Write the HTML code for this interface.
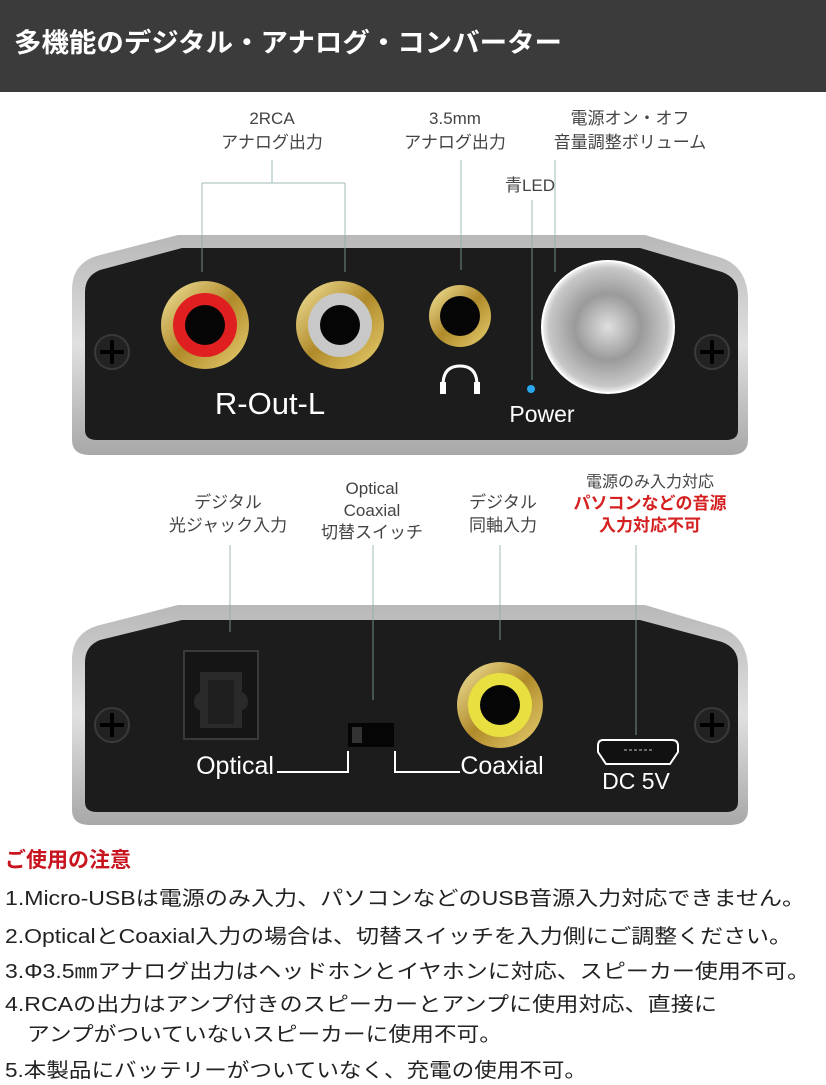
<!DOCTYPE html>
<html><head><meta charset="utf-8"><style>
body{margin:0;width:826px;height:1080px;overflow:hidden;background:#fff}
svg text{font-family:"Liberation Sans","Noto Sans CJK JP",sans-serif}
</style></head><body>
<svg width="826" height="1080" viewBox="0 0 826 1080" xmlns="http://www.w3.org/2000/svg">
<defs>
<radialGradient id="knob" cx="50%" cy="50%" r="50%">
<stop offset="0" stop-color="#e0e0e0"/><stop offset="0.5" stop-color="#9a9a9a"/><stop offset="0.9" stop-color="#c8c8c8"/><stop offset="1" stop-color="#f5f5f5"/>
</radialGradient>
<linearGradient id="gold" x1="0" y1="0" x2="1" y2="1">
<stop offset="0" stop-color="#f4e6a0"/><stop offset="0.5" stop-color="#b08a2a"/><stop offset="1" stop-color="#e8d070"/>
</linearGradient>
<linearGradient id="silver" x1="0" y1="0" x2="0" y2="1">
<stop offset="0" stop-color="#b8b8b8"/><stop offset="0.5" stop-color="#e0e0e0"/><stop offset="1" stop-color="#a8a8a8"/>
</linearGradient>
</defs>
<rect x="0" y="0" width="826" height="92" fill="#3b3b3b"/>
<text x="14" y="52" font-size="26.5" font-weight="bold" fill="#fff" textLength="548" lengthAdjust="spacingAndGlyphs">多機能のデジタル・アナログ・コンバーター</text>

<g fill="#444" font-size="17" text-anchor="middle">
<text x="272" y="124">2RCA</text><text x="272" y="148">アナログ出力</text>
<text x="455" y="124">3.5mm</text><text x="455" y="148">アナログ出力</text>
<text x="630" y="124">電源オン・オフ</text><text x="630" y="148">音量調整ボリューム</text>
<text x="530" y="191">青LED</text>
<text x="228" y="508">デジタル</text><text x="228" y="531">光ジャック入力</text>
<text x="372" y="494">Optical</text><text x="372" y="516">Coaxial</text><text x="372" y="538">切替スイッチ</text>
<text x="503" y="508">デジタル</text><text x="503" y="531">同軸入力</text>
<text x="650" y="487" font-size="16">電源のみ入力対応</text>
<text x="650" y="509" font-weight="bold" fill="#d42020">パソコンなどの音源</text>
<text x="650" y="531" font-weight="bold" fill="#d42020">入力対応不可</text>
</g>

<!-- top device -->
<path d="M72 290 Q72 262 100 255 L178 235 L645 235 L722 258 Q748 268 748 300 L748 440 Q748 455 730 455 L90 455 Q72 455 72 440Z" fill="url(#silver)"/>
<path d="M85 292 Q85 276 100 270 L182 248 L640 248 L722 272 Q738 278 738 294 L738 430 Q738 440 726 440 L97 440 Q85 440 85 430Z" fill="#1c1c1c"/>
<g stroke="#8aa" stroke-width="1" fill="none" opacity="0.8">
<path d="M272 160V183M202 183H345M202 183V272M345 183V272"/>
<path d="M461 160V270M532 200V380M555 160V272"/>
<path d="M230 545V632M373 545V700M500 545V640M636 545V735"/>
</g>
<circle cx="112" cy="352" r="17" fill="#222" stroke="#3a3a3a" stroke-width="2"/><circle cx="712" cy="352" r="17" fill="#222" stroke="#3a3a3a" stroke-width="2"/>
<g stroke="#000" stroke-width="4"><path d="M100 352H124M112 340V364M700 352H724M712 340V364"/></g>
<circle cx="205" cy="325" r="44" fill="url(#gold)"/><circle cx="205" cy="325" r="32" fill="#e02020"/><circle cx="205" cy="325" r="20" fill="#050505"/>
<circle cx="340" cy="325" r="44" fill="url(#gold)"/><circle cx="340" cy="325" r="32" fill="#c8c8c8"/><circle cx="340" cy="325" r="20" fill="#050505"/>
<circle cx="460" cy="316" r="31" fill="url(#gold)"/><circle cx="460" cy="316" r="20" fill="#050505"/>
<circle cx="608" cy="327" r="66" fill="url(#knob)" stroke="#fff" stroke-width="2"/>
<path d="M443 385 Q443 366 460 366 Q477 366 477 385" stroke="#fff" stroke-width="3" fill="none"/>
<rect x="440" y="382" width="6" height="12" fill="#fff"/><rect x="474" y="382" width="6" height="12" fill="#fff"/>
<circle cx="531" cy="389" r="4" fill="#29a8f0"/>
<text x="270" y="414" font-size="31" fill="#fff" text-anchor="middle">R-Out-L</text>
<text x="542" y="422" font-size="23" fill="#fff" text-anchor="middle">Power</text>

<!-- bottom device -->
<path d="M72 660 Q72 632 100 625 L178 605 L645 605 L722 628 Q748 638 748 670 L748 810 Q748 825 730 825 L90 825 Q72 825 72 810Z" fill="url(#silver)"/>
<path d="M85 662 Q85 646 100 640 L182 620 L640 620 L722 642 Q738 648 738 664 L738 802 Q738 812 726 812 L97 812 Q85 812 85 802Z" fill="#1c1c1c"/>
<g stroke="#8aa" stroke-width="1" fill="none" opacity="0.8">
<path d="M230 605V632M373 605V700M500 605V640M636 605V735"/>
</g>
<circle cx="112" cy="725" r="17" fill="#222" stroke="#3a3a3a" stroke-width="2"/><circle cx="712" cy="725" r="17" fill="#222" stroke="#3a3a3a" stroke-width="2"/>
<g stroke="#000" stroke-width="4"><path d="M100 725H124M112 713V737M700 725H724M712 713V737"/></g>
<rect x="184" y="651" width="74" height="88" fill="#151515" stroke="#3a3a3a" stroke-width="2"/>
<path d="M200 672H242V692Q248 695 248 702Q248 708 242 710V728H200V710Q194 708 194 702Q194 695 200 692Z" fill="#2a2a2a"/>
<rect x="208" y="680" width="26" height="44" fill="#1f1f1f"/>
<rect x="348" y="723" width="46" height="24" fill="#050505"/><rect x="352" y="727" width="10" height="16" fill="#333"/>
<path d="M277 772H348V751M395 751V772H460" stroke="#fff" stroke-width="2" fill="none"/>
<circle cx="500" cy="705" r="43" fill="url(#gold)"/><circle cx="500" cy="705" r="32" fill="#e8e040"/><circle cx="500" cy="705" r="20" fill="#050505"/>
<path d="M603 740H672Q678 740 678 746V752L670 764H606L598 752V746Q598 740 603 740Z" fill="#111" stroke="#fff" stroke-width="2"/>
<path d="M624 750H654" stroke="#888" stroke-width="1.5" stroke-dasharray="3 2"/>
<text x="235" y="774" font-size="25" fill="#fff" text-anchor="middle">Optical</text>
<text x="502" y="774" font-size="25" fill="#fff" text-anchor="middle">Coaxial</text>
<text x="636" y="789" font-size="23" fill="#fff" text-anchor="middle">DC 5V</text>

<text x="5" y="867" font-size="21" font-weight="bold" fill="#c8141e">ご使用の注意</text>
<g font-size="20" fill="#222">
<text x="5" y="905" textLength="800" lengthAdjust="spacingAndGlyphs">1.Micro-USBは電源のみ入力、パソコンなどのUSB音源入力対応できません。</text>
<text x="5" y="943" textLength="787" lengthAdjust="spacingAndGlyphs">2.OpticalとCoaxial入力の場合は、切替スイッチを入力側にご調整ください。</text>
<text x="5" y="978" textLength="805" lengthAdjust="spacingAndGlyphs">3.Φ3.5㎜アナログ出力はヘッドホンとイヤホンに対応、スピーカー使用不可。</text>
<text x="5" y="1011" textLength="712" lengthAdjust="spacingAndGlyphs">4.RCAの出力はアンプ付きのスピーカーとアンプに使用対応、直接に</text>
<text x="27" y="1041" textLength="475" lengthAdjust="spacingAndGlyphs">アンプがついていないスピーカーに使用不可。</text>
<text x="5" y="1077" textLength="582" lengthAdjust="spacingAndGlyphs">5.本製品にバッテリーがついていなく、充電の使用不可。</text>
</g>
</svg>
</body></html>
